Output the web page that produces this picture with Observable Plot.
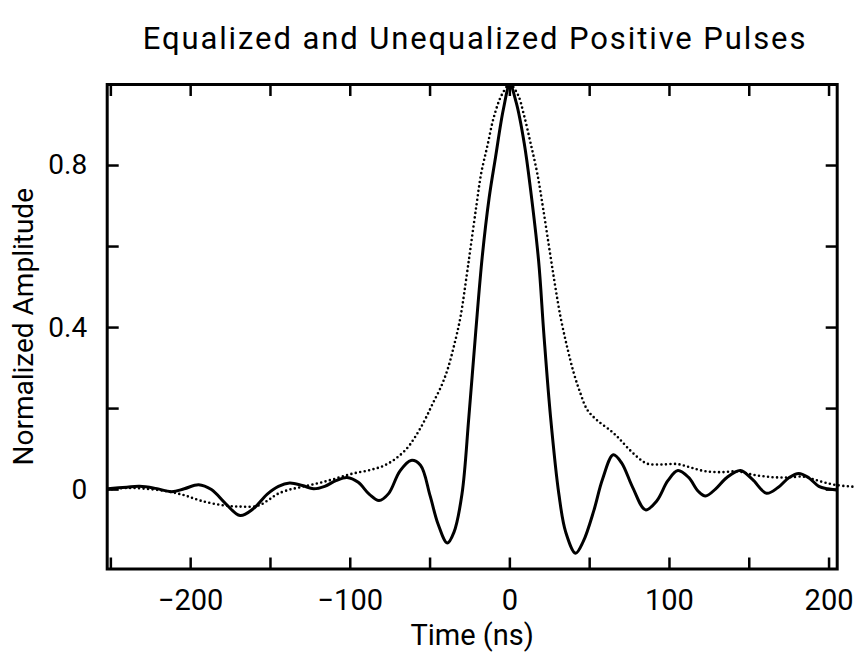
<!DOCTYPE html>
<html>
<head>
<meta charset="utf-8">
<script src="https://cdn.jsdelivr.net/npm/d3@7"></script>
<script src="https://cdn.jsdelivr.net/npm/@observablehq/plot@0.6"></script>
<style>
  body { margin: 0; background: #fff; }
  #wrap { position: relative; width: 856px; height: 655px; }
  #chart { position: absolute; top: 0; left: 0; z-index: 0; }
  #title { position: absolute; top: 23px; left: 475px; transform: translateX(-50%); z-index: 2;
    font-family: Roboto, sans-serif; font-size: 31px; line-height: 1; white-space: nowrap; color: #000;
    letter-spacing: 1.9px; }
</style>
</head>
<body>
<div id="wrap">
  <div id="chart"></div>
  <div id="title">Equalized and Unequalized Positive Pulses</div>
</div>
<script>
// Equalized pulse (solid)
const eqTime = [-252, -240, -232, -222, -212, -204, -195, -187, -178, -169, -161, -152, -145, -138, -130, -123, -116, -109, -102, -95, -88, -82, -76, -69, -62, -56, -50, -45, -39.2, -35, -30, -25.7, -21.5, -17.3, -13, -9, -4, 0, 4, 9, 13, 18, 21.3, 25.5, 30.7, 35, 41.2, 46, 52.6, 58, 64.8, 70, 77, 85, 92, 99, 105.3, 112, 118, 122.6, 129, 136, 144.5, 152, 160.8, 168, 175, 181, 187, 193.6, 199, 204.5];
const eqAmp = [0.002, 0.006, 0.008, 0.003, -0.005, 0.002, 0.012, 0.000, -0.035, -0.064, -0.048, -0.011, 0.008, 0.016, 0.010, 0.002, 0.008, 0.022, 0.030, 0.018, -0.012, -0.027, -0.010, 0.045, 0.072, 0.060, -0.015, -0.085, -0.132, -0.105, -0.011, 0.179, 0.384, 0.575, 0.72, 0.82, 0.94, 1.0, 0.955, 0.855, 0.74, 0.565, 0.384, 0.179, -0.011, -0.105, -0.157, -0.128, -0.052, 0.025, 0.086, 0.066, 0.005, -0.050, -0.028, 0.022, 0.047, 0.030, -0.004, -0.016, 0.002, 0.030, 0.047, 0.025, -0.009, 0.005, 0.030, 0.040, 0.030, 0.008, 0.002, -0.001];

// Unequalized pulse (dotted)
const uneqTime = [-252, -240, -228, -215, -204, -194, -181, -169, -158, -151, -145.7, -138, -131, -122, -114, -106, -98, -88, -79, -71, -64, -60, -56, -52, -48, -43, -39, -35, -31, -27, -24.6, -21, -18, -14, -10, -5, 0, 5, 8.8, 13, 17.2, 21, 25.5, 28.5, 31.8, 36, 40.1, 44, 48.5, 55, 63, 68, 73.6, 80, 86, 95, 105, 113, 121.6, 132, 142.5, 152, 163.3, 174, 184.2, 190, 196.7, 205, 215.5];
const uneqAmp = [0.0, 0.004, 0.002, -0.004, -0.014, -0.027, -0.038, -0.042, -0.040, -0.025, -0.011, 0.000, 0.006, 0.014, 0.022, 0.031, 0.040, 0.048, 0.059, 0.078, 0.104, 0.126, 0.152, 0.182, 0.215, 0.255, 0.297, 0.355, 0.425, 0.530, 0.598, 0.70, 0.78, 0.85, 0.92, 0.975, 1.0, 0.975, 0.925, 0.855, 0.78, 0.69, 0.575, 0.50, 0.425, 0.35, 0.287, 0.24, 0.197, 0.170, 0.146, 0.128, 0.104, 0.080, 0.064, 0.062, 0.063, 0.055, 0.046, 0.043, 0.045, 0.037, 0.031, 0.030, 0.032, 0.026, 0.018, 0.011, 0.007];

// Axis ticks
const xTicksMinor = [-250, -200, -150, -100, -50, 0, 50, 100, 150, 200];
const xTickLabels = [-200, -100, 0, 100, 200];
const yTicksMinor = [0, 0.2, 0.4, 0.6, 0.8];
const yTickLabels = [0, 0.4, 0.8];

const eq = eqTime.map((t, i) => ({t, a: eqAmp[i]}));
const uneq = uneqTime.map((t, i) => ({t, a: uneqAmp[i]}));

const fmtX = d => d < 0 ? "\u2212" + Math.abs(d) : String(d);
const fmtY = d => d === 0 ? "0" : d.toFixed(1);

const chart = Plot.plot({
  width: 856,
  height: 655,
  marginLeft: 106.7,
  marginRight: 19.3,
  marginTop: 84,
  marginBottom: 86.5,
  style: {fontFamily: "Roboto, sans-serif", fontSize: "28px", color: "#000", background: "transparent", overflow: "visible"},
  x: {domain: [-252.3, 205.1]},
  y: {domain: [-0.196, 1.0]},
  marks: [
    // inward ticks on all sides
    Plot.axisX(xTicksMinor, {anchor: "bottom", tickSize: -11, strokeWidth: 2.5, fill: "none"}),
    Plot.axisX(xTicksMinor, {anchor: "top", tickSize: -11, strokeWidth: 2.5, fill: "none"}),
    Plot.axisY(yTicksMinor, {anchor: "left", tickSize: -12, strokeWidth: 2.5, fill: "none"}),
    Plot.axisY(yTicksMinor, {anchor: "right", tickSize: -12, strokeWidth: 2.5, fill: "none"}),
    // labels
    Plot.axisX(xTickLabels, {anchor: "bottom", tickSize: 0, tickPadding: 20, tickFormat: fmtX, fontSize: 29,
      label: "Time (ns)", labelAnchor: "center", labelArrow: "none", labelOffset: 76}),
    Plot.axisY(yTickLabels, {anchor: "left", tickSize: 0, tickPadding: 20, tickFormat: fmtY, fontSize: 28,
      label: "Normalized Amplitude", labelAnchor: "center", labelArrow: "none", labelOffset: 94}),
    Plot.frame({strokeWidth: 3}),
    Plot.line(uneq, {x: "t", y: "a", curve: "catmull-rom", stroke: "#000", strokeWidth: 2.6,
      strokeDasharray: "0,4.5", strokeLinecap: "round"}),
    Plot.line(eq, {x: "t", y: "a", curve: "catmull-rom", stroke: "#000", strokeWidth: 3})
  ]
});
document.getElementById("chart").appendChild(chart);
</script>
</body>
</html>
